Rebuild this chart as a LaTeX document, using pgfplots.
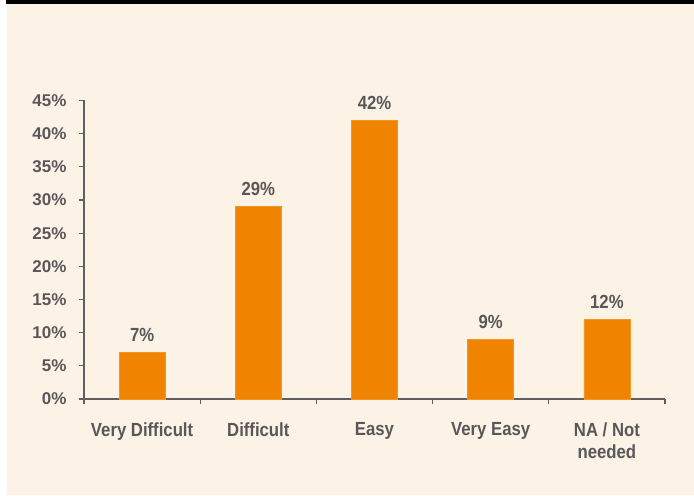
\documentclass[border=0pt]{standalone}
\usepackage{pgfplots}
\pgfplotsset{compat=1.18}
\usepackage{fontspec}
\setmainfont{Liberation Sans}[FakeStretch=0.88]
\newfontfamily\tickfont{Liberation Sans}[FakeStretch=1.0]
\definecolor{cream}{RGB}{253,242,230}
\definecolor{barorange}{RGB}{240,131,0}
\definecolor{txtgray}{RGB}{88,88,90}
\definecolor{axgray}{RGB}{95,95,95}
\begin{document}
\begin{tikzpicture}[x=1bp,y=1bp]
\useasboundingbox (0,0) rectangle (694,496);
\fill[white] (0,0) rectangle (694,496);
\fill[cream] (7,1) rectangle (694,492);
\fill[black] (6,492) rectangle (694,496);
\begin{axis}[
  at={(84bp,97bp)}, anchor=south west,
  scale only axis,
  width=581bp, height=298.5bp,
  xmin=-0.5, xmax=4.5,
  ymin=0, ymax=45,
  axis x line*=bottom, axis y line*=left,
  axis line style={-, draw=axgray, line width=1.3bp},
  tick style={draw=axgray, line width=1.3bp},
  major tick length=5bp,
  tick align=outside,
  xtick={-0.5,0.5,...,4.5},
  x tick label as interval,
  xticklabels={Very Difficult,Difficult,Easy,Very Easy,{NA / Not\\needed}},
  xticklabel style={font=\bfseries\fontsize{19bp}{22bp}\selectfont, text=txtgray, align=center, yshift=-15bp},
  ytick={0,5,...,45},
  yticklabels={0\%,5\%,10\%,15\%,20\%,25\%,30\%,35\%,40\%,45\%},
  yticklabel style={font=\tickfont\bfseries\fontsize{17bp}{20bp}\selectfont, text=txtgray, xshift=-9bp},
  ybar, bar width=46bp,
  nodes near coords={\pgfmathprintnumber[assume math mode=true]{\pgfplotspointmeta}\%},
  every node near coord/.append style={font=\bfseries\fontsize{19bp}{22bp}\selectfont, text=txtgray, anchor=base, yshift=11bp},
  clip=false,
]
\addplot[fill=barorange, draw=barorange!85!white, line width=0.6bp] coordinates {(0,7) (1,29) (2,42) (3,9) (4,12)};
\end{axis}
\end{tikzpicture}
\end{document}
